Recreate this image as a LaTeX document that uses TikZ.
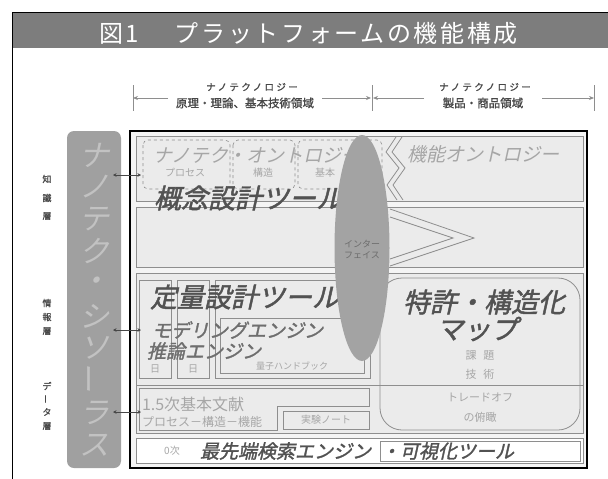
\documentclass[tikz,border=0pt]{standalone}
\usepackage{fontspec}
\setmainfont{Noto Sans CJK JP}
\newfontfamily\jp{Noto Sans CJK JP}
\newfontfamily\jphead[LetterSpace=11]{Noto Sans CJK JP}
\newfontfamily\jpit[FakeSlant=0.22]{Noto Sans CJK JP}
\newfontfamily\jpitb[FakeSlant=0.22,FakeBold=1.6]{Noto Sans CJK JP}
\newfontfamily\jpbd[FakeBold=1.2]{Noto Sans CJK JP}
\newfontfamily\jpsp[FakeBold=1.2,LetterSpace=25]{Noto Sans CJK JP}
\usetikzlibrary{shapes.geometric,arrows.meta}
\definecolor{hdr}{HTML}{7D7D7D}
\definecolor{panebg}{HTML}{F4F4F4}
\definecolor{boxfill}{HTML}{EBEBEB}
\definecolor{boxline}{HTML}{8E8E8E}
\definecolor{darktxt}{HTML}{525252}
\definecolor{midtxt}{HTML}{6E6E6E}
\definecolor{lighttxt}{HTML}{A6A6A6}
\definecolor{barfill}{HTML}{A0A0A0}
\definecolor{barletter}{HTML}{C2C2C2}
\definecolor{labtxt}{HTML}{474747}
\definecolor{ifacefill}{HTML}{A3A3A3}
\begin{document}
\begin{tikzpicture}[x=1pt,y=-1pt,
  every node/.style={inner sep=0pt,outer sep=0pt},
  panebox/.style={draw=boxline,line width=0.8pt,fill=boxfill},
  thinbox/.style={draw=boxline,line width=0.7pt},
  dashbox/.style={draw=boxline,dashed,line width=0.6pt,rounded corners=5pt},
  bigit/.style={font=\jpitb\fontsize{27}{27}\selectfont,text=darktxt},
  midit/.style={font=\jpitb\fontsize{19}{19}\selectfont,text=midtxt},
  lightit/.style={font=\jpit\fontsize{19}{19}\selectfont,text=lighttxt},
  smalllight/.style={font=\jp\fontsize{10}{10}\selectfont,text=lighttxt},
  layerlab/.style={font=\jpbd\fontsize{9}{9}\selectfont,text=labtxt},
  toplab/.style={font=\jpbd\fontsize{11.5}{12}\selectfont,text=labtxt},
  topkana/.style={font=\jpsp\fontsize{9.5}{10}\selectfont,text=labtxt},
  thesletter/.style={font=\jpit\fontsize{30}{30}\selectfont,text=barletter},
  link/.style={line width=0.6pt,draw=labtxt,{Stealth[length=3.5pt,width=3.5pt]}-{Stealth[length=3.5pt,width=3.5pt]}},
  brack/.style={line width=0.7pt,draw=boxline},
  brackarrow/.style={line width=0.7pt,draw=boxline,-{Stealth[length=5pt,width=4pt]}}
]
\useasboundingbox (0,0) rectangle (608,479);
\fill[white] (0,0) rectangle (608,479);

% header
\fill[hdr] (12,12) rectangle (608,48);
\draw[line width=1pt] (12,479) -- (12,12) -- (608,12);
\node[font=\jphead\fontsize{24}{24}\selectfont,text=white,anchor=west] (title) at (99,33) {図1\hspace{36pt}プラットフォームの機能構成};

% top bracket
\coordinate (tl) at (133,98);
\coordinate (tm) at (372,98);
\coordinate (tr) at (594,98);
\foreach \t in {tl,tm,tr}{\draw[brack] ([yshift=13pt]\t) -- ([yshift=-13pt]\t);}
\coordinate (a1) at (168,98);
\coordinate (a2) at (322,98);
\coordinate (a3) at (424,98);
\coordinate (a4) at (542,98);
\draw[brackarrow] (a1) -- (tl);
\draw[brackarrow] (a2) -- ([xshift=-1pt]tm);
\draw[brackarrow] (a3) -- ([xshift=1pt]tm);
\draw[brackarrow] (a4) -- (tr);
\node[topkana] (n1) at (252,87) {ナノテクノロジー};
\node[toplab] (n2) at (245,103) {原理・理論、基本技術領域};
\node[topkana] (n3) at (485,87) {ナノテクノロジー};
\node[toplab] (n4) at (483,103) {製品・商品領域};

% thesaurus bar
\node[fill=barfill,rounded corners=7pt,minimum width=54pt,minimum height=337pt] (thes) at (94,299.5) {};
\node[thesletter] (t1) at (94,155) {ナ};
\node[thesletter] (t2) at (94,187) {ノ};
\node[thesletter] (t3) at (94,219) {テ};
\node[thesletter] (t4) at (94,251) {ク};
\node[thesletter] (t5) at (94,284) {・};
\node[thesletter] (t6) at (94,316) {シ};
\node[thesletter] (t7) at (94,348) {ソ};
\node[thesletter,rotate=90] (t8) at (94,381) {ー};
\node[thesletter] (t9) at (94,413) {ラ};
\node[thesletter] (t10) at (94,445) {ス};

% layer labels
\node[layerlab] (k1) at (47,179) {知};
\node[layerlab] (k2) at (47,198) {識};
\node[layerlab] (k3) at (47,216) {層};
\node[layerlab] (j1) at (47,303) {情};
\node[layerlab] (j2) at (47,317) {報};
\node[layerlab] (j3) at (47,331) {層};
\node[layerlab] (d1) at (47,386) {デ};
\node[layerlab,rotate=90] (d2) at (47,399) {ー};
\node[layerlab] (d3) at (47,412) {タ};
\node[layerlab] (d4) at (47,426) {層};

% main frame
\node[draw,line width=1.8pt,fill=panebg,minimum width=457pt,minimum height=337pt] (frame) at (358.5,299.5) {};

% row 1: knowledge
\draw[panebox] (136,136) rectangle (583,201);
\draw[dashbox] (143,140) rectangle (230,189);
\draw[dashbox] (233,140) rectangle (295,189);
\draw[dashbox] (298,140) rectangle (382,189);
\draw[boxline,line width=0.8pt] (396,137) -- (386,152) -- (399,168) -- (387,185) -- (397,200);
\draw[boxline,line width=0.8pt] (402,137) -- (392,152) -- (405,168) -- (393,185) -- (403,200);
\node[lightit,anchor=west] (onto) at (153,155) {ナノテク・オントロジー};
\node[smalllight] (proc) at (185,173) {プロセス};
\node[smalllight] (struc) at (263,173) {構造};
\node[smalllight] (basic) at (325,173) {基本};
\node[lightit,anchor=west] (fonto) at (407,154) {機能オントロジー};

% row 2
\draw[panebox] (136,207) rectangle (583,267);
\draw[boxline,line width=0.8pt] (390,209) -- (474,238) -- (390,266);
\draw[boxline,line width=0.8pt] (390,217) -- (453,238) -- (390,259);
\node[bigit,anchor=west] (concept) at (154,198) {概念設計ツール};

% rows 3-4 outer area
\draw[panebox] (136,273) rectangle (583,433);
\draw[boxline,line width=0.8pt] (136,385) -- (583,385);
\draw[thinbox,fill=boxfill] (139,280) rectangle (171,378);
\draw[thinbox,fill=boxfill] (177,280) rectangle (209,378);
\draw[thinbox,fill=boxfill] (215,280) rectangle (370,378);
\draw[thinbox] (220,318) rectangle (364,373);
\node[smalllight] (e3) at (155,369) {日};
\node[smalllight] (e6) at (193,369) {日};
\node[smalllight,font=\jp\fontsize{9}{9}\selectfont] (qhb) at (292,366) {量子ハンドブック};
\node[bigit,anchor=west] (quant) at (150,297) {定量設計ツール};
\node[midit,anchor=west] (model) at (152,330) {モデリングエンジン};
\node[midit,anchor=west] (infer) at (147,351) {推論エンジン};

% patent map
\draw[boxline,line width=0.8pt,rounded corners=22pt] (380,278) rectangle (580,430);
\node[bigit] (pat) at (484,302) {特許・構造化};
\node[bigit] (map) at (477,329) {マップ};
\node[smalllight,font=\jp\fontsize{11}{11}\selectfont] (p1) at (480,356) {課\hspace{0.6em}題};
\node[smalllight,font=\jp\fontsize{11}{11}\selectfont] (p2) at (480,374) {技\hspace{0.6em}術};
\node[smalllight,font=\jp\fontsize{11}{11}\selectfont] (p3) at (480,397) {トレードオフ};
\node[smalllight,font=\jp\fontsize{11}{11}\selectfont] (p4) at (480,417) {の俯瞰};

% row 4: data
\draw[thinbox,fill=boxfill] (139,388) -- (369,388) -- (369,406) -- (277,406) -- (277,430) -- (139,430) -- cycle;
\draw[thinbox,fill=boxfill] (283,411) rectangle (369,429);
\node[smalllight,font=\jp\fontsize{16}{16}\selectfont,anchor=west] (lit) at (142,404) {1.5次基本文献};
\node[smalllight,font=\jp\fontsize{12}{12}\selectfont,anchor=west] (psf) at (142,422) {プロセス－構造－機能};
\node[smalllight] (note) at (326,420) {実験ノート};

% row 5
\draw[panebox,fill=white] (136,438) rectangle (583,463);
\draw[thinbox] (380,441) rectangle (580,461);
\node[smalllight] (zero) at (172,451) {0次};
\node[bigit,font=\jpitb\fontsize{19}{19}\selectfont,anchor=west] (search) at (200,451) {最先端検索エンジン};
\node[bigit,font=\jpitb\fontsize{19}{19}\selectfont,anchor=west] (vis) at (381,451) {・可視化ツール};

% interface ellipse
\node[ellipse,fill=ifacefill,minimum width=55pt,minimum height=226pt] (iface) at (362,248) {};
\node[font=\jp\fontsize{9}{11}\selectfont,text=labtxt!80,align=center] (ifacetxt) at (362,249) {インター\\フェイス};

% connectors
\coordinate (c1a) at (113,175);
\coordinate (c1b) at (141,175);
\coordinate (c2a) at (113,330);
\coordinate (c2b) at (141,330);
\coordinate (c3a) at (113,412);
\coordinate (c3b) at (141,412);
\draw[link] (c1a) -- (c1b);
\draw[link] (c2a) -- (c2b);
\draw[link] (c3a) -- (c3b);
\end{tikzpicture}
\end{document}
